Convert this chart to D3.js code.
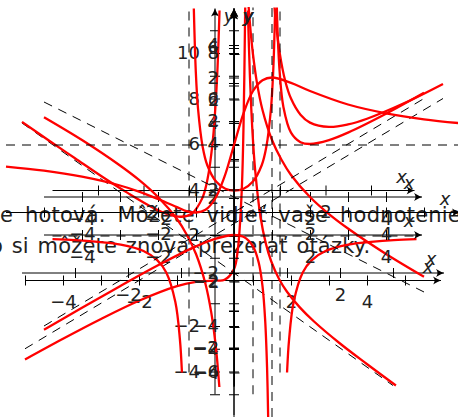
<!DOCTYPE html>
<html>
<head>
<meta charset="utf-8">
<script src="https://cdn.jsdelivr.net/npm/d3@7/dist/d3.min.js"></script>
<style>
    html, body { margin: 0; padding: 0; background: #fff; overflow: hidden; }
    svg { display: block; }
</style>
</head>
<body>
<div id="picture"></div>
<script>
// overlay text lines
const textLines = ['e hotová. Môžete vidieť vaše hodnotenie', 'o si môžete znova prezerať otázky.'];

// plot A, points as [x, y]
const plotALeft = [[-5, -3.47], [-4, -2.56], [-3, -1.69], [-2, -0.89], [-1, -0.25], [-0.5, -0.06], [0, 0], [0.25, 0.03], [0.5, 0.5], [0.6, 1.35], [0.7, 3.81], [0.75, 6.75], [0.795, 12]];
const plotARight = [[1.565, 12], [1.6, 11.38], [1.7, 10.03], [1.85, 8.76], [2, 8], [2.25, 7.29], [2.5, 6.94], [3, 6.75], [3.5, 6.86], [4, 7.11], [5, 7.81], [6, 8.64]];
const plotADashes = [[[-5, -3], [6, 8]], [[1, -5], [1, 12]]];

// plot B
const plotBLeft = [[-4, 4.03], [-3.5, 3.54], [-3, 3.06], [-2.5, 2.58], [-2, 2.13], [-1.5, 1.72], [-1.25, 1.57], [-1, 1.5], [-0.8, 1.58], [-0.6, 1.99], [-0.5, 2.5], [-0.4, 3.53], [-0.33, 4.92], [-0.3, 5.86], [-0.273, 7]];
const plotBRight = [[0.262, 7], [0.3, 5.26], [0.35, 3.73], [0.4, 2.73], [0.5, 1.5], [0.6, 0.79], [0.7, 0.32], [0.85, -0.16], [1, -0.5], [1.25, -0.93], [1.5, -1.28], [2, -1.88], [2.5, -2.42], [3.055, -3]];
const plotBDashes = [[[-4, 4], [3, -3]]];

// plot C
const plotCLeft = [[-4, -1.07], [-3.5, -1.09], [-3, -1.13], [-2.5, -1.19], [-2, -1.33], [-1.7, -1.53], [-1.5, -1.8], [-1.3, -2.45], [-1.2, -3.27], [-1.155, -4]];
const plotCMiddle = [[-0.894, 4], [-0.85, 2.6], [-0.8, 1.78], [-0.7, 0.96], [-0.6, 0.56], [-0.4, 0.19], [-0.2, 0.04], [0, 0], [0.2, 0.04], [0.4, 0.19], [0.6, 0.56], [0.7, 0.96], [0.8, 1.78], [0.85, 2.6], [0.894, 4]];
const plotCRight = [[1.155, -4], [1.2, -3.27], [1.3, -2.45], [1.5, -1.8], [1.7, -1.53], [2, -1.33], [2.5, -1.19], [3, -1.13], [3.5, -1.09], [4, -1.07]];
const plotCDashes = [[[-4, -1], [4, -1]], [[-1, -4], [-1, 4]], [[1, -4], [1, 4]]];

// plot D
const plotDLeft = [[-5, 2.1], [-4, 1.5], [-3, 0.83], [-2.5, 0.45], [-2, 0], [-1.5, -0.58], [-1.25, -0.98], [-1, -1.5], [-0.75, -2.29], [-0.6, -3.03], [-0.5, -3.75], [-0.45, -4.22], [-0.385, -5]];
const plotDRight = [[0.385, 5], [0.45, 4.22], [0.5, 3.75], [0.6, 3.03], [0.75, 2.29], [1, 1.5], [1.25, 0.98], [1.5, 0.58], [2, 0], [2.5, -0.45], [3, -0.83], [4, -1.5], [5, -2.1]];
const plotDDashes = [[[-5, 2.5], [5, -2.5]]];

// plot E
const plotELeft = [[-5, -4.17], [-4, -3.2], [-3, -2.25], [-2, -1.33], [-1, -0.5], [-0.5, -0.17], [0, 0], [0.25, -0.08], [0.5, -0.5], [0.65, -1.21], [0.75, -2.25], [0.82, -3.74], [0.87, -5.82], [0.899, -8]];
const plotERight = [[1.127, 10], [1.15, 8.82], [1.2, 7.2], [1.3, 5.63], [1.5, 4.5], [1.75, 4.08], [2, 4], [2.5, 4.17], [3, 4.5], [4, 5.33], [5, 6.25]];
const plotEDashes = [[[-5, -4], [5, 6]], [[1, -8], [1, 10]]];

// plot F
const plotFWhole = [[-6, 0.68], [-5, 0.62], [-4, 0.53], [-3, 0.4], [-2.5, 0.31], [-2, 0.2], [-1.5, 0.08], [-1.25, 0.02], [-1, 0], [-0.75, 0.04], [-0.5, 0.2], [-0.25, 0.53], [0, 1], [0.25, 1.47], [0.5, 1.8], [0.75, 1.96], [1, 2], [1.5, 1.92], [2, 1.8], [3, 1.6], [4, 1.47], [5, 1.38], [6, 1.32]];
const plotFDashes = [[[-6, 1], [6, 1]]];

// tick values and which of them carry a label
const ticksAX = [-5, -4, -3, -2, -1, 1, 2, 3, 4, 5];
const ticksAY = [-5, -4, -3, -2, -1, 1, 2, 3, 4, 5, 6, 7, 8, 9, 10, 11];
const labelsAX = [-4, -2, 2, 4];
const labelsAY = [-4, -2, 2, 4, 6, 8, 10];
const ticksBX = [-3, -2, -1, 1, 2, 3];
const ticksBY = [-2, -1, 1, 2, 3, 4, 5, 6];
const labelsBX = [-2, 2];
const labelsBY = [-2, 2, 4, 6];
const ticksCX = [-3, -2, -1, 1, 2, 3];
const ticksCY = [-4, -3, -2, -1, 1, 2, 3];
const labelsCX = [-2, 2];
const labelsCY = [-4, -2, 2];
const ticksDX = [-4, -3, -2, -1, 1, 2, 3, 4];
const ticksDY = [-4, -3, -2, -1, 1, 2, 3, 4];
const labelsDX = [-4, -2, 2, 4];
const labelsDY = [-4, -2, 2, 4];
const ticksEX = [-4, -3, -2, -1, 1, 2, 3, 4];
const ticksEY = [-7, -6, -5, -4, -3, -2, -1, 1, 2, 3, 4, 5, 6, 7, 8, 9];
const labelsEX = [-4, -2, 2, 4];
const labelsEY = [-6, -4, -2, 2, 4, 6, 8];
const ticksFX = [-5, -4, -3, -2, -1, 1, 2, 3, 4, 5];
const ticksFY = [-2, -1, 1, 2];
const labelsFX = [-4, -2, 2, 4];
const labelsFY = [-2, 2];

displayPicture('picture');

function displayPicture(divId) {
    const svgWidth = 458;
    const svgHeight = 417;

    const svg = d3.select('#' + divId)
        .append('svg')
        .attr('width', svgWidth)
        .attr('height', svgHeight);

    svg.append('defs')
        .append('marker')
            .attr('id', 'arrowhead')
            .attr('markerUnits', 'userSpaceOnUse')
            .attr('viewBox', '-9 -5 10 10')
            .attr('refX', 0)
            .attr('refY', 0)
            .attr('markerWidth', 10)
            .attr('markerHeight', 10)
            .attr('orient', 'auto')
            .append('path')
                .attr('d', 'M -8 -4 Q -3 -1 0 0 Q -3 1 -8 4 Q -5 0 -8 -4 z')
                .attr('fill', 'black');

    // first line sits at the left edge, second one starts just outside it
    const textStarts = [0, -10];
    const textBaselines = [222, 253];
    const wordSpacings = [5, 1.8];

    svg.selectAll('text.overlay')
        .data(textLines)
        .join('text')
        .attr('class', 'overlay')
        .attr('x', (d, i) => textStarts[i])
        .attr('y', (d, i) => textBaselines[i])
        .attr('font-family', 'DejaVu Sans')
        .attr('font-size', 21)
        .attr('letter-spacing', 0.2)
        .attr('word-spacing', (d, i) => wordSpacings[i])
        .attr('fill', '#222')
        .text(d => d);

    drawPlot(svg, {
        x: d3.scaleLinear().domain([-5, 6]).range([25, 443]),
        y: d3.scaleLinear().domain([-5, 12]).range([394.25, 7.5]),
        ticksX: ticksAX, ticksY: ticksAY, labelsX: labelsAX, labelsY: labelsAY,
        dashes: plotADashes, branches: [plotALeft, plotARight]
    });
    drawPlot(svg, {
        x: d3.scaleLinear().domain([-4, 4]).range([22, 446]),
        y: d3.scaleLinear().domain([-3, 7]).range([385.5, 10.5]),
        ticksX: ticksBX, ticksY: ticksBY, labelsX: labelsBX, labelsY: labelsBY,
        dashes: plotBDashes, branches: [plotBLeft, plotBRight]
    });
    drawPlot(svg, {
        x: d3.scaleLinear().domain([-4, 4]).range([52.5, 416.5]),
        y: d3.scaleLinear().domain([-4.3, 4]).range([386.15, 8.5]),
        ticksX: ticksCX, ticksY: ticksCY, labelsX: labelsCX, labelsY: labelsCY,
        dashes: plotCDashes, branches: [plotCLeft, plotCMiddle, plotCRight]
    });
    drawPlot(svg, {
        x: d3.scaleLinear().domain([-5, 5]).range([44, 424]),
        y: d3.scaleLinear().domain([-5, 5]).range([387, 7]),
        ticksX: ticksDX, ticksY: ticksDY, labelsX: labelsDX, labelsY: labelsDY,
        dashes: plotDDashes, branches: [plotDLeft, plotDRight]
    });
    drawPlot(svg, {
        x: d3.scaleLinear().domain([-5, 5]).range([44, 424]),
        y: d3.scaleLinear().domain([-8, 10]).range([417, 7.5]),
        ticksX: ticksEX, ticksY: ticksEY, labelsX: labelsEX, labelsY: labelsEY,
        dashes: plotEDashes, branches: [plotELeft, plotERight]
    });
    drawPlot(svg, {
        x: d3.scaleLinear().domain([-6, 6]).range([6, 462]),
        y: d3.scaleLinear().domain([-3, 3]).range([415, 10]),
        ticksX: ticksFX, ticksY: ticksFY, labelsX: labelsFX, labelsY: labelsFY,
        dashes: plotFDashes, branches: [plotFWhole]
    });
}

function drawPlot(svg, plot) {
    const x = plot.x;
    const y = plot.y;
    const originX = x(0);
    const originY = y(0);
    const tickSize = 5;

    const plotGroup = svg.append('g');

    const xAxis = plotGroup.append('g')
        .attr('transform', `translate(0, ${originY})`)
        .call(d3.axisBottom(x)
            .tickValues(plot.ticksX)
            .tickSize(tickSize)
            .tickPadding(10)
            .tickFormat(d => plot.labelsX.includes(d) ? d3.format('d')(d) : ''));

    const yAxis = plotGroup.append('g')
        .attr('transform', `translate(${originX}, 0)`)
        .call(d3.axisLeft(y)
            .tickValues(plot.ticksY)
            .tickSize(tickSize)
            .tickPadding(10)
            .tickFormat(d => plot.labelsY.includes(d) ? d3.format('d')(d) : ''));

    xAxis.selectAll('.tick line').attr('y1', -tickSize);
    yAxis.selectAll('.tick line').attr('x1', tickSize);
    xAxis.select('.domain').remove();
    yAxis.select('.domain').remove();

    plotGroup.selectAll('g.tick text')
        .attr('font-family', 'DejaVu Sans')
        .attr('font-size', 18)
        .attr('fill', '#222');

    const xEnd = x.range()[1] - 2;
    const yEnd = y.range()[1] + 1;

    plotGroup.append('line')
        .attr('x1', x.range()[0])
        .attr('y1', originY)
        .attr('x2', xEnd)
        .attr('y2', originY)
        .attr('stroke', 'black')
        .attr('marker-end', 'url(#arrowhead)');

    plotGroup.append('line')
        .attr('x1', originX)
        .attr('y1', y.range()[0])
        .attr('x2', originX)
        .attr('y2', yEnd)
        .attr('stroke', 'black')
        .attr('marker-end', 'url(#arrowhead)');

    plotGroup.append('text')
        .attr('x', Math.min(xEnd, 458) - 13)
        .attr('y', originY - 8)
        .attr('text-anchor', 'middle')
        .attr('font-family', 'DejaVu Sans')
        .attr('font-style', 'italic')
        .attr('font-size', 18)
        .attr('fill', '#222')
        .text('x');

    plotGroup.append('text')
        .attr('x', originX + 14)
        .attr('y', 22)
        .attr('text-anchor', 'middle')
        .attr('font-family', 'DejaVu Sans')
        .attr('font-style', 'italic')
        .attr('font-size', 18)
        .attr('fill', '#222')
        .text('y');

    const line = d3.line()
        .x(d => x(d[0]))
        .y(d => y(d[1]));

    plotGroup.selectAll('path.dash')
        .data(plot.dashes)
        .join('path')
        .attr('class', 'dash')
        .attr('d', line)
        .attr('fill', 'none')
        .attr('stroke', 'black')
        .attr('stroke-dasharray', '9 7');

    const smoothLine = d3.line()
        .x(d => x(d[0]))
        .y(d => y(d[1]))
        .curve(d3.curveCatmullRom.alpha(0.5));

    plotGroup.selectAll('path.branch')
        .data(plot.branches)
        .join('path')
        .attr('class', 'branch')
        .attr('d', smoothLine)
        .attr('fill', 'none')
        .attr('stroke', 'red')
        .attr('stroke-width', 2.3);
}
</script>
</body>
</html>
